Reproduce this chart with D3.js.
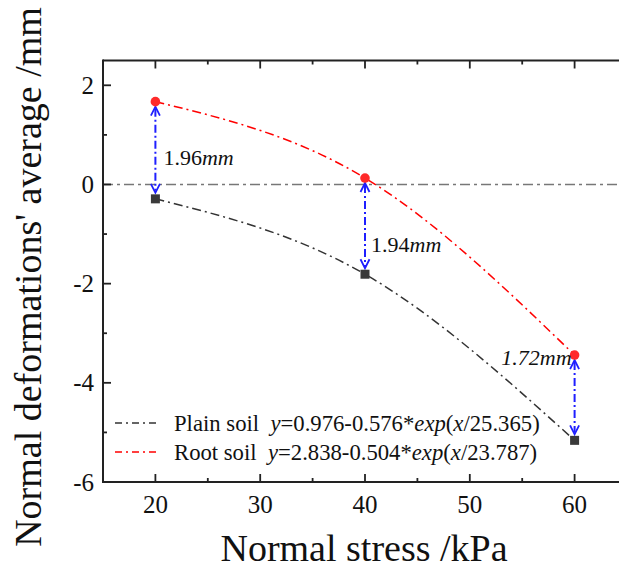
<!DOCTYPE html>
<html>
<head>
<meta charset="utf-8">
<script src="https://cdn.jsdelivr.net/npm/d3@7"></script>
<style>
  body { margin: 0; background: #fff; }
  svg text { font-family: "Liberation Serif", "Times New Roman", serif; fill: #111; }
</style>
</head>
<body>
<script>
// Data
const stress = [20, 40, 60];
const plainSoil = [-0.29, -1.81, -5.16];
const rootSoil = [1.67, 0.13, -3.44];
const gapLabels = ["1.96", "1.94", "1.72"];
const xTicks = [20, 30, 40, 50, 60];
const yTicks = [-6, -4, -2, 0, 2];
const legendNames = ["Plain soil", "Root soil"];
const legendFits = [["0.976", "0.576", "25.365"], ["2.838", "0.504", "23.787"]];

// Layout
let width = 619, height = 570;
let margin = { top: 60.5, bottom: 88, left: 103, right: -8 };

let svg = d3.select("body").append("svg")
    .attr("width", width)
    .attr("height", height);

let xScale = d3.scaleLinear().domain([15, 65]).range([margin.left, width - margin.right]);
let yScale = d3.scaleLinear().domain([-6, 2.5]).range([height - margin.bottom, margin.top]);

const axisColor = "#222";
const dashDot = "9,4,2,4";

// Zero reference line
svg.append("line")
    .attr("x1", xScale(15)).attr("x2", xScale(65))
    .attr("y1", yScale(0)).attr("y2", yScale(0))
    .attr("stroke", "#777").attr("stroke-width", 1.6)
    .attr("stroke-dasharray", "10,4,3,4");

// Fit curves through the measured points
let line = d3.line().curve(d3.curveNatural)
    .x(d => xScale(d[0])).y(d => yScale(d[1]));

svg.append("path")
    .attr("d", line(stress.map((s, i) => [s, plainSoil[i]])))
    .attr("fill", "none").attr("stroke", "#333").attr("stroke-width", 1.5)
    .attr("stroke-dasharray", dashDot);

svg.append("path")
    .attr("d", line(stress.map((s, i) => [s, rootSoil[i]])))
    .attr("fill", "none").attr("stroke", "#ff0000").attr("stroke-width", 1.5)
    .attr("stroke-dasharray", dashDot);

// Blue double arrows between the two series
const blue = "#1f1fff";
stress.forEach(function(s, i) {
    let x = xScale(s);
    let yTop = yScale(rootSoil[i]) + 5;
    let yBot = yScale(plainSoil[i]) - 6;
    svg.append("line")
        .attr("x1", x).attr("x2", x).attr("y1", yTop + 2).attr("y2", yBot - 2)
        .attr("stroke", blue).attr("stroke-width", 2)
        .attr("stroke-dasharray", "8,3,2,3");
    svg.append("path")
        .attr("d", `M${x - 4.5},${yTop + 9}L${x},${yTop}L${x + 4.5},${yTop + 9}`)
        .attr("fill", "none").attr("stroke", blue).attr("stroke-width", 1.8);
    svg.append("path")
        .attr("d", `M${x - 4.5},${yBot - 9}L${x},${yBot}L${x + 4.5},${yBot - 9}`)
        .attr("fill", "none").attr("stroke", blue).attr("stroke-width", 1.8);
});

// Markers
svg.selectAll("rect.plain")
    .data(stress)
    .enter().append("rect")
    .attr("class", "plain")
    .attr("x", d => xScale(d) - 4.5)
    .attr("y", (d, i) => yScale(plainSoil[i]) - 4.5)
    .attr("width", 9).attr("height", 9)
    .attr("fill", "#3a3a3a");

svg.selectAll("circle.root")
    .data(stress)
    .enter().append("circle")
    .attr("class", "root")
    .attr("cx", d => xScale(d))
    .attr("cy", (d, i) => yScale(rootSoil[i]))
    .attr("r", 4.8)
    .attr("fill", "#ff2a2a");

// Gap labels
const labelOffsets = [[8, 15, "start"], [6, 26, "start"], [-3, 10, "end"]];
gapLabels.forEach(function(g, i) {
    let off = labelOffsets[i];
    let t = svg.append("text")
        .attr("x", xScale(stress[i]) + off[0])
        .attr("y", off[2] === "end" ? yScale(rootSoil[i]) + off[1] : (yScale(rootSoil[i]) + yScale(plainSoil[i])) / 2 + off[1])
        .attr("text-anchor", off[2])
        .style("font-size", "22px");
    t.append("tspan").text(g).style("font-style", i === 2 ? "italic" : "normal");
    t.append("tspan").text("mm").style("font-style", "italic");
});

// Axes frame
let bottomY = yScale(-6), topY = yScale(2.5);
svg.append("line").attr("x1", xScale(15)).attr("x2", xScale(65) + 2)
    .attr("y1", bottomY).attr("y2", bottomY).attr("stroke", axisColor).attr("stroke-width", 2);
svg.append("line").attr("x1", xScale(15)).attr("x2", xScale(65) + 2)
    .attr("y1", topY).attr("y2", topY).attr("stroke", axisColor).attr("stroke-width", 2);
svg.append("line").attr("x1", xScale(15)).attr("x2", xScale(15))
    .attr("y1", topY - 1).attr("y2", bottomY + 1).attr("stroke", axisColor).attr("stroke-width", 2);

// X ticks (inward, on bottom and top)
let xMinor = d3.range(15, 66, 5);
xMinor.forEach(function(v) {
    let major = xTicks.includes(v);
    let len = major ? 8 : 4;
    [[bottomY, -len], [topY, len]].forEach(function(p) {
        svg.append("line")
            .attr("x1", xScale(v)).attr("x2", xScale(v))
            .attr("y1", p[0]).attr("y2", p[0] + p[1])
            .attr("stroke", axisColor).attr("stroke-width", 1.8);
    });
});
svg.selectAll("text.xtick")
    .data(xTicks)
    .enter().append("text")
    .attr("class", "xtick")
    .attr("x", d => xScale(d))
    .attr("y", bottomY + 31)
    .attr("text-anchor", "middle")
    .style("font-size", "25px")
    .text(d => d);

// Y ticks (inward)
let yMinor = d3.range(-6, 3, 1);
yMinor.forEach(function(v) {
    let len = yTicks.includes(v) ? 8 : 4;
    svg.append("line")
        .attr("x1", xScale(15)).attr("x2", xScale(15) + len)
        .attr("y1", yScale(v)).attr("y2", yScale(v))
        .attr("stroke", axisColor).attr("stroke-width", 1.8);
});
svg.selectAll("text.ytick")
    .data(yTicks)
    .enter().append("text")
    .attr("class", "ytick")
    .attr("x", xScale(15) - 9)
    .attr("y", d => yScale(d) + 8.5)
    .attr("text-anchor", "end")
    .style("font-size", "25px")
    .text(d => d);

// Legend
legendNames.forEach(function(name, i) {
    let ly = 423 + i * 29;
    svg.append("line")
        .attr("x1", 115).attr("x2", 160).attr("y1", ly).attr("y2", ly)
        .attr("stroke", i === 0 ? "#333" : "#ff0000").attr("stroke-width", 1.5)
        .attr("stroke-dasharray", "7,4,2,4");
    let fit = legendFits[i];
    let t = svg.append("text")
        .attr("x", 174).attr("y", ly + 8)
        .style("font-size", "22.7px")
        .attr("xml:space", "preserve");
    t.append("tspan").text(name + "  ");
    t.append("tspan").text("y").style("font-style", "italic");
    t.append("tspan").text("=" + fit[0] + "-" + fit[1] + "*");
    t.append("tspan").text("exp").style("font-style", "italic");
    t.append("tspan").text("(");
    t.append("tspan").text("x").style("font-style", "italic");
    t.append("tspan").text("/" + fit[2] + ")");
});

// Axis titles
svg.append("text")
    .attr("x", 364).attr("y", 561)
    .attr("text-anchor", "middle")
    .style("font-size", "38px")
    .text("Normal stress /kPa");

svg.append("text")
    .attr("transform", "translate(41,277) rotate(-90)")
    .attr("text-anchor", "middle")
    .style("font-size", "38px")
    .text("Normal deformations' average /mm");
</script>
</body>
</html>
